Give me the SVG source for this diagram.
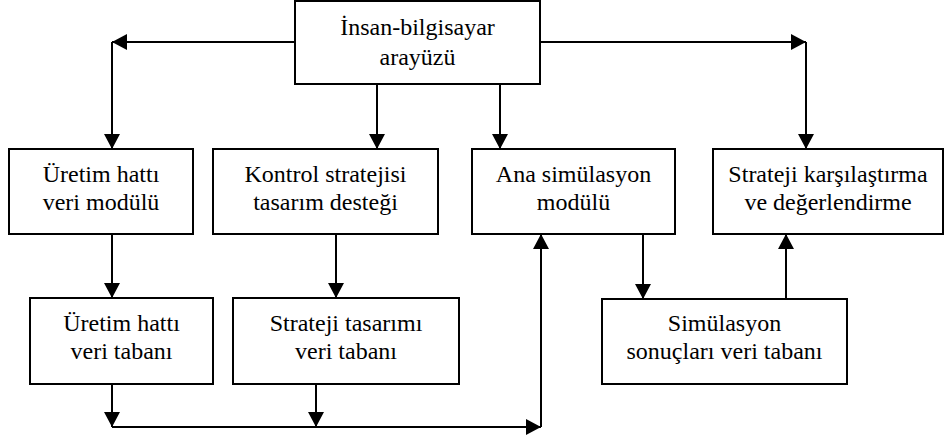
<svg xmlns="http://www.w3.org/2000/svg" width="945" height="441" viewBox="0 0 945 441" font-family="Liberation Serif, Times New Roman, serif" font-size="24">
<style>
.box{fill:#fff;stroke:#000;stroke-width:2}
.lbl{fill:#000;text-anchor:middle}
.c{fill:none;stroke:#000;stroke-width:2}
.a{marker-end:url(#ah)}
</style>
<defs>
<marker id="ah" markerUnits="userSpaceOnUse" markerWidth="16" markerHeight="16" viewBox="0 0 15 16" refX="15" refY="8" orient="auto">
<path d="M0,0 L15,8 L0,16 z" fill="#000"/>
</marker>
</defs>
<rect width="945" height="441" fill="#fff"/>
<g id="connectors">
<path class="c a" d="M295,42 H112"/>
<path class="c a" d="M112,42 V149"/>
<path class="c a" d="M540,42 H806"/>
<path class="c a" d="M806,42 V149"/>
<path class="c a" d="M377,84 V149"/>
<path class="c a" d="M500,84 V149"/>
<path class="c a" d="M112,234 V298"/>
<path class="c a" d="M336,234 V298"/>
<path class="c a" d="M643,234 V299"/>
<path class="c a" d="M786,299 V234"/>
<path class="c a" d="M112,384 V427"/>
<path class="c a" d="M316,384 V427"/>
<path class="c a" d="M112,427 H541"/>
<path class="c a" d="M541,427 V234"/>
</g>
<g id="n_arayuz">
<rect class="box" x="295" y="1" width="245" height="83"/>
<text class="lbl" x="417.5" y="35" font-family="Liberation Serif, serif">İnsan-bilgisayar</text>
<text class="lbl" x="417.5" y="65" font-family="Liberation Serif, serif">arayüzü</text>
</g>
<g id="n_uretim_modul">
<rect class="box" x="9" y="149" width="184" height="85"/>
<text class="lbl" x="101" y="182" font-family="Liberation Serif, serif">Üretim hattı</text>
<text class="lbl" x="101" y="210" font-family="Liberation Serif, serif">veri modülü</text>
</g>
<g id="n_kontrol">
<rect class="box" x="213" y="149" width="225" height="85"/>
<text class="lbl" x="325.5" y="182" font-family="Liberation Serif, serif">Kontrol stratejisi</text>
<text class="lbl" x="325.5" y="210" font-family="Liberation Serif, serif">tasarım desteği</text>
</g>
<g id="n_ana">
<rect class="box" x="472" y="149" width="203" height="85"/>
<text class="lbl" x="573.5" y="182" font-family="Liberation Serif, serif">Ana simülasyon</text>
<text class="lbl" x="573.5" y="210" font-family="Liberation Serif, serif">modülü</text>
</g>
<g id="n_karsilastirma">
<rect class="box" x="713" y="149" width="230" height="85"/>
<text class="lbl" x="828" y="182" font-family="Liberation Serif, serif">Strateji karşılaştırma</text>
<text class="lbl" x="828" y="210" font-family="Liberation Serif, serif">ve değerlendirme</text>
</g>
<g id="n_uretim_db">
<rect class="box" x="30" y="298" width="183" height="86"/>
<text class="lbl" x="121.5" y="331" font-family="Liberation Serif, serif">Üretim hattı</text>
<text class="lbl" x="121.5" y="359" font-family="Liberation Serif, serif">veri tabanı</text>
</g>
<g id="n_strateji_db">
<rect class="box" x="233" y="298" width="226" height="86"/>
<text class="lbl" x="346" y="331" font-family="Liberation Serif, serif">Strateji tasarımı</text>
<text class="lbl" x="346" y="359" font-family="Liberation Serif, serif">veri tabanı</text>
</g>
<g id="n_sonuc_db">
<rect class="box" x="602" y="299" width="245" height="85"/>
<text class="lbl" x="724.5" y="331" font-family="Liberation Serif, serif">Simülasyon</text>
<text class="lbl" x="724.5" y="359" font-family="Liberation Serif, serif">sonuçları veri tabanı</text>
</g>
</svg>
